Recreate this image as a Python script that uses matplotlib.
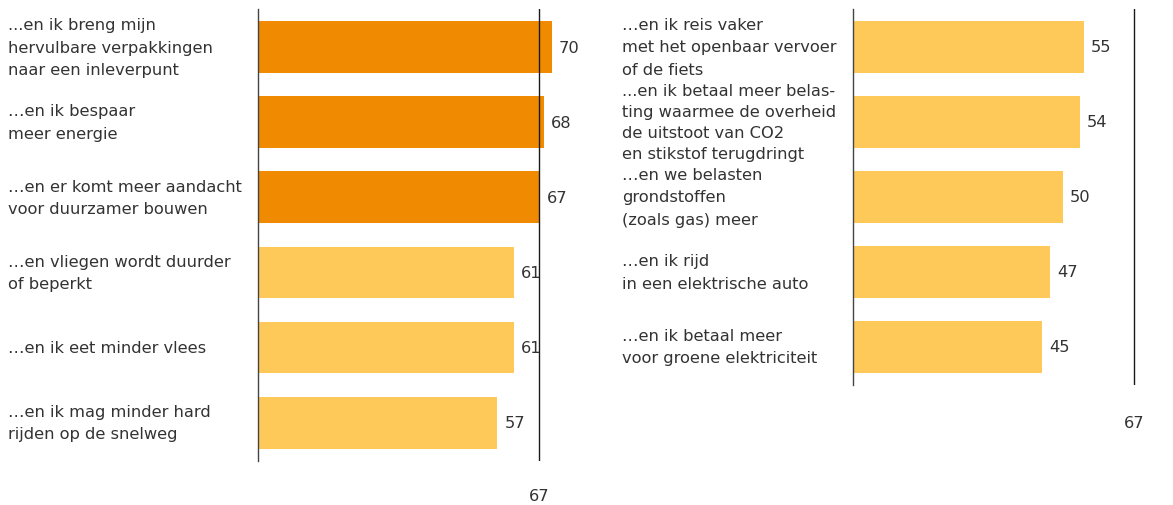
import matplotlib
matplotlib.use("Agg")
import matplotlib.pyplot as plt

# ---- data ----
left_labels = [
    "...en ik breng mijn\nhervulbare verpakkingen\nnaar een inleverpunt",
    "…en ik bespaar\nmeer energie",
    "…en er komt meer aandacht\nvoor duurzamer bouwen",
    "…en vliegen wordt duurder\nof beperkt",
    "…en ik eet minder vlees",
    "…en ik mag minder hard\nrijden op de snelweg",
]
left_values = [70, 68, 67, 61, 61, 57]
left_highlight = [True, True, True, False, False, False]

right_labels = [
    "…en ik reis vaker\nmet het openbaar vervoer\nof de fiets",
    "...en ik betaal meer belas-\nting waarmee de overheid\nde uitstoot van CO2\nen stikstof terugdringt",
    "…en we belasten\ngrondstoffen\n(zoals gas) meer",
    "…en ik rijd\nin een elektrische auto",
    "…en ik betaal meer\nvoor groene elektriciteit",
]
right_values = [55, 54, 50, 47, 45]
right_highlight = [False, False, False, False, False]

reference = 67

DARK = "#F08A00"
LIGHT = "#FFC95A"
TXT = "#333333"
FS = 11.7

W, H = 1173, 506
fig = plt.figure(figsize=(W / 100, H / 100), dpi=100)
fig.patch.set_facecolor("white")

PX = 4.2  # pixels per unit


def panel(x0, top, bottom, labels, values, hl, label_x):
    n = len(values)
    width_px = 340
    ax = fig.add_axes([x0 / W, 1 - bottom / H, width_px / W, (bottom - top) / H])
    ax.set_xlim(0, width_px / PX)
    ax.set_ylim(n - 1 + 0.51, -0.507)
    ys = list(range(n))
    colors = [DARK if h else LIGHT for h in hl]
    ax.barh(ys, values, height=0.69, color=colors, zorder=1)
    ax.axvline(reference, color="#1a1a1a", lw=1.0, zorder=3)
    for s in ["top", "right", "bottom"]:
        ax.spines[s].set_visible(False)
    ax.spines["left"].set_color("#444444")
    ax.spines["left"].set_linewidth(1.0)
    ax.set_xticks([])
    ax.set_yticks([])
    ax.patch.set_alpha(0)
    for y, v, lab in zip(ys, values, labels):
        ls = 1.5 if lab.count("\n") >= 3 else 1.62
        ax.annotate(str(v), (v, y), xytext=(7, 0), textcoords="offset pixels",
                    va="center", ha="left", fontsize=FS, color=TXT, zorder=4)
        ax.annotate(lab, (0, y), xycoords=("axes fraction", "data"),
                    xytext=(label_x - x0, 0), textcoords="offset pixels",
                    va="center", ha="left", fontsize=FS, color=TXT,
                    linespacing=ls, annotation_clip=False)
    return ax


axL = panel(258, 10, 462, left_labels, left_values, left_highlight, 8)
axR = panel(853, 10, 386, right_labels, right_values, right_highlight, 622)

for ax, ypx in [(axL, 497), (axR, 424)]:
    x_disp = ax.transData.transform((reference, 0))[0]
    fig.text(x_disp / W, 1 - ypx / H, str(reference), ha="center", va="center",
             fontsize=FS, color=TXT)

fig.savefig("out.png", dpi=100, facecolor="white")
